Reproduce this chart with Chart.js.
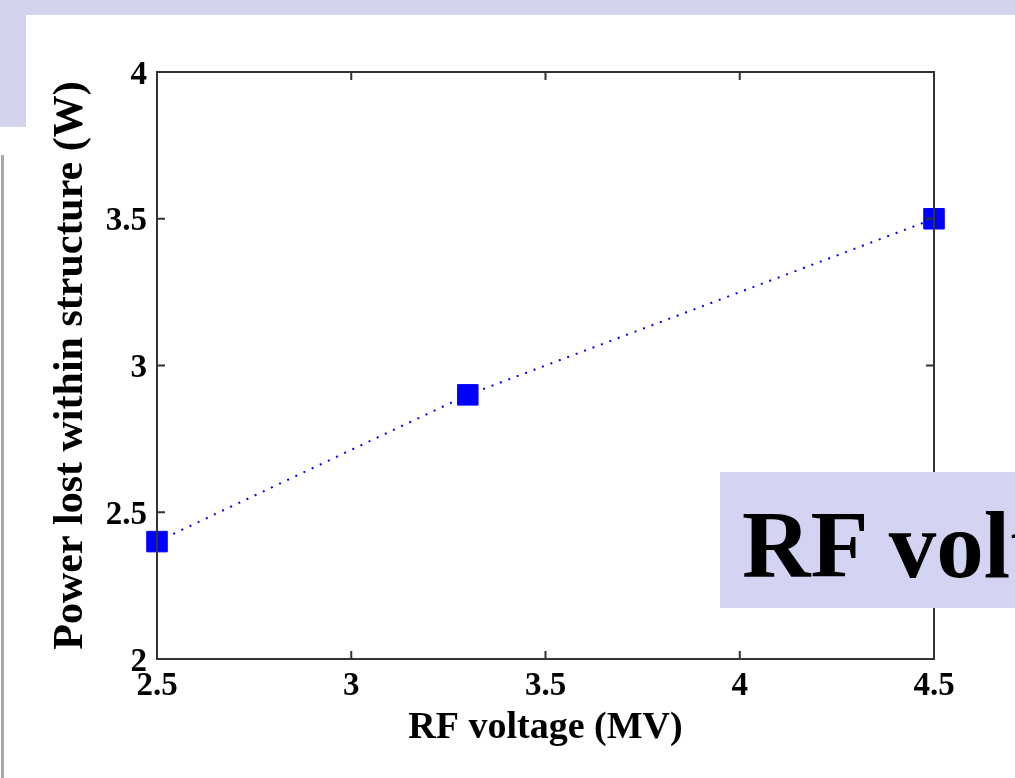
<!DOCTYPE html>
<html lang="en">
<head>
    <meta charset="UTF-8">
    <title>RF voltage vs power lost</title>
    <script src="https://cdn.jsdelivr.net/npm/chart.js"></script>
    <style>
        body { margin: 0; width: 1015px; height: 778px; overflow: hidden; background: #fff; position: relative; }
        #topband { position: absolute; left: 0; top: 0; width: 1015px; height: 15px; background: #d3d3ee; }
        #leftblock { position: absolute; left: 0; top: 0; width: 26px; height: 127px; background: #d3d3ee; }
        #leftline { position: absolute; left: 1px; top: 155px; width: 3px; height: 623px; background: #a8a8a8; }
        #chart { position: absolute; left: 0; top: 0; }
        #label { position: absolute; left: 720px; top: 472px; width: 295px; height: 136px; background: #d3d3f2; overflow: hidden; }
        #label span { position: absolute; left: 22px; top: 26px; font: bold 95px/1 "Liberation Serif", "Times New Roman", serif; white-space: nowrap; color: #000; }
    </style>
</head>
<body>
    <div id="topband"></div>
    <div id="leftblock"></div>
    <div id="leftline"></div>
    <canvas id="chart" width="1015" height="778"></canvas>
    <div id="label"><span>RF voltage</span></div>

    <script>
        // data
        const rfVoltage = [2.5, 3.3, 4.5];       // MV
        const powerLost = [2.4, 2.9, 3.5];       // W
        const xTicks = [2.5, 3, 3.5, 4, 4.5];
        const yTicks = [2, 2.5, 3, 3.5, 4];

        const serif = '"Liberation Serif", "Times New Roman", serif';

        // MATLAB style box with ticks pointing inwards
        const framePlugin = {
            id: 'frame',
            afterDatasetsDraw(chart) {
                const ctx = chart.ctx;
                const a = chart.chartArea;
                const xs = chart.scales.x, ys = chart.scales.y;
                const len = 8;
                ctx.save();
                ctx.strokeStyle = '#333';
                ctx.lineWidth = 2;
                ctx.strokeRect(a.left, a.top, a.right - a.left, a.bottom - a.top);
                ctx.beginPath();
                xTicks.forEach(v => {
                    const px = xs.getPixelForValue(v);
                    ctx.moveTo(px, a.bottom); ctx.lineTo(px, a.bottom - len);
                    ctx.moveTo(px, a.top); ctx.lineTo(px, a.top + len);
                });
                yTicks.forEach(v => {
                    const py = ys.getPixelForValue(v);
                    ctx.moveTo(a.left, py); ctx.lineTo(a.left + len, py);
                    ctx.moveTo(a.right, py); ctx.lineTo(a.right - len, py);
                });
                ctx.stroke();
                ctx.restore();
            }
        };

        const points = rfVoltage.map((v, i) => ({ x: v, y: powerLost[i] }));

        new Chart(document.getElementById('chart'), {
            type: 'line',
            data: {
                datasets: [{
                    data: points,
                    borderColor: '#0000ff',
                    borderWidth: 2,
                    borderDash: [2, 7],
                    pointStyle: 'rect',
                    pointRadius: 14.5,
                    pointBorderWidth: 1,
                    pointBackgroundColor: '#0000ff',
                    pointBorderColor: '#0000ff',
                    clip: false
                }]
            },
            options: {
                responsive: false,
                animation: false,
                layout: { padding: { top: 72, right: 81, left: 0, bottom: 0 } },
                plugins: { legend: { display: false }, tooltip: { enabled: false } },
                scales: {
                    x: {
                        type: 'linear',
                        min: 2.5, max: 4.5,
                        afterBuildTicks: s => { s.ticks = xTicks.map(v => ({ value: v })); },
                        afterFit: s => { s.height = 119; },
                        grid: { display: false, drawTicks: false },
                        border: { display: false },
                        ticks: { color: '#000', padding: 8, maxRotation: 0, callback: v => String(v), font: { family: serif, size: 33, weight: 'bold' } },
                        title: { display: true, text: 'RF voltage (MV)', color: '#000', padding: { top: 0, bottom: 27 }, font: { family: serif, size: 38, weight: 'bold' } }
                    },
                    y: {
                        min: 2, max: 4,
                        afterBuildTicks: s => { s.ticks = yTicks.map(v => ({ value: v })); },
                        afterFit: s => { s.width = 157; },
                        grid: { display: false, drawTicks: false },
                        border: { display: false },
                        ticks: { color: '#000', padding: 10, labelOffset: 3, callback: v => String(v), font: { family: serif, size: 33, weight: 'bold' } },
                        title: { display: true, text: 'Power lost within structure (W)', color: '#000', padding: { top: 46, bottom: 0 }, font: { family: serif, size: 42, weight: 'bold' } }
                    }
                }
            },
            plugins: [framePlugin]
        });
    </script>
</body>
</html>
